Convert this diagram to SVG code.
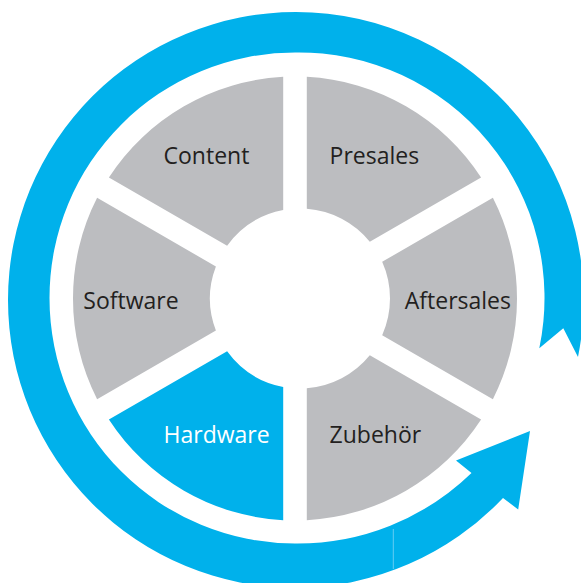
<svg xmlns="http://www.w3.org/2000/svg" width="581" height="583" viewBox="0 0 581 583">
<style>
.seg{fill:#bcbdc0}
.hi{fill:#00b1eb}
.lbl{font-family:"Open Sans","Liberation Sans",sans-serif;font-size:23px;fill:#231f20}
.lbl.w{fill:#ffffff}
</style>
<rect width="581" height="583" fill="#ffffff"/>
<g id="connectors">
<path id="cycle-arrow" fill="#00b1eb" d="M578,357 L563.3,328.3 L539.3,348.3 A245.5,245.5 0 0 0 295,52.5 A245.5,245.5 0 0 0 49.5,298 A245.5,245.5 0 0 0 295,543.5 A250,250 0 0 0 471.5,473 L456,460.5 L530,431 L518.2,509.5 L503,498 A288,288 0 0 1 296,588 A288,288 0 0 1 8,300 A288,288 0 0 1 296,12 A288,288 0 0 1 578,357 Z"/>
<line x1="393.3" y1="529" x2="393.3" y2="569" stroke="#7fd4f4" stroke-width="0.8"/>
</g>
<g id="presales">
<path class="seg" d="M306.8,76.81 A222,222 0 0 1 481.09,177.43 L369.8,241.69 A90,90 0 0 0 306.8,208.76 Z"/>
<text class="lbl" x="329.6" y="163.7">Presales</text>
</g>
<g id="aftersales">
<path class="seg" d="M492.89,197.87 A222,222 0 0 1 492.89,399.13 L382.17,335.2 A90,90 0 0 0 382.17,261.8 Z"/>
<text class="lbl" x="511" y="308.5" text-anchor="end">Aftersales</text>
</g>
<g id="zubehoer">
<path class="seg" d="M481.09,419.57 A222,222 0 0 1 306.8,520.19 L306.8,388.24 A90,90 0 0 0 369.8,355.31 Z"/>
<text class="lbl" x="329.6" y="443.3">Zubehör</text>
</g>
<g id="hardware">
<path class="hi" d="M283.2,520.19 A222,222 0 0 1 108.91,419.57 L227.12,351.31 A90,90 0 0 0 283.2,386.92 Z"/>
<text class="lbl w" x="163.5" y="443.3">Hardware</text>
</g>
<g id="software">
<path class="seg" d="M97.11,399.13 A222,222 0 0 1 97.11,197.87 L215.9,266.46 A90,90 0 0 0 215.9,330.54 Z"/>
<text class="lbl" x="83.3" y="308.5">Software</text>
</g>
<g id="content">
<path class="seg" d="M108.91,177.43 A222,222 0 0 1 283.2,76.81 L283.2,210.08 A90,90 0 0 0 227.12,245.69 Z"/>
<text class="lbl" x="163.5" y="163.7">Content</text>
</g>
</svg>
